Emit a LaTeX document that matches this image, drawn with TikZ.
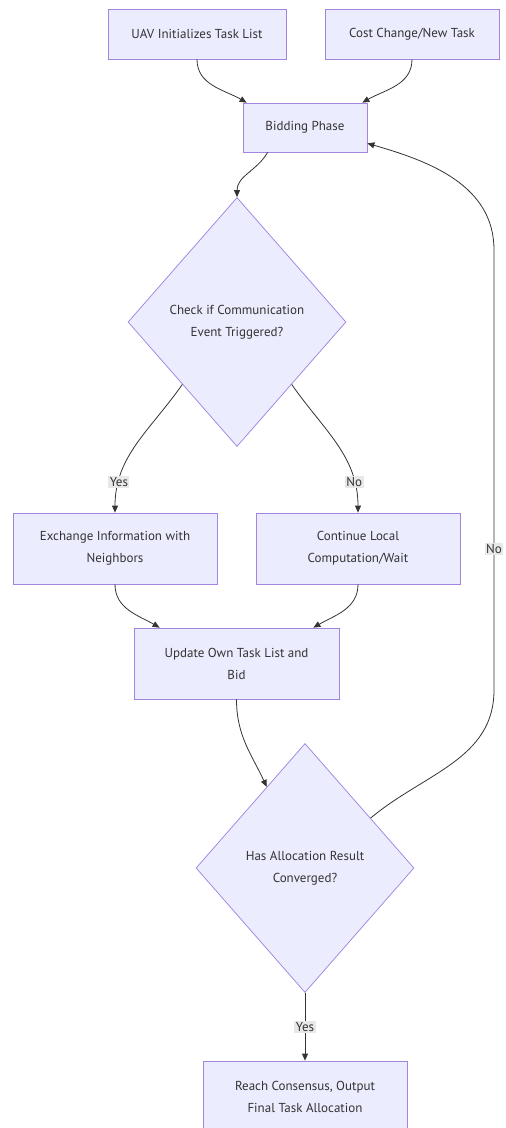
\documentclass[tikz,border=0pt]{standalone}
\usepackage{fontspec}
\setmainfont{PT Sans}
\usepackage{tikz}
\usetikzlibrary{arrows.meta, positioning, calc, shapes.geometric}
\definecolor{boxfill}{HTML}{ECECFF}
\definecolor{boxline}{HTML}{9370DB}
\definecolor{flowline}{HTML}{333333}
\definecolor{labelfill}{HTML}{E8E8E8}

\begin{document}
\begin{tikzpicture}[
    x=1pt, y=1pt,
    procbox/.style={draw=boxline!85, fill=boxfill, line width=0.75pt, align=center, text=flowline, font=\fontsize{13}{22}\selectfont, inner sep=0pt},
    decision/.style={diamond, draw=boxline!85, fill=boxfill, line width=0.75pt, align=center, text=flowline, font=\fontsize{13}{22}\selectfont, inner sep=0pt, minimum width=218pt, minimum height=249pt},
    flow/.style={->, draw=flowline, line width=0.8pt},
    edgelabel/.style={fill=labelfill, text=flowline, inner sep=1.5pt, font=\fontsize{13}{15}\selectfont},
    >={Triangle[length=7pt, width=6pt]}
]
  \useasboundingbox (0,0) rectangle (506,-1128);

  \node[procbox, minimum width=178pt, minimum height=50pt] (init) at (197,-34) {UAV Initializes Task List};
  \node[procbox, minimum width=174pt, minimum height=50pt] (change) at (412,-34) {Cost Change/New Task};
  \node[procbox, minimum width=124pt, minimum height=49pt] (bid) at (305,-127.5) {Bidding Phase};

  \node[decision] (comm) at (237,-322) {Check if Communication\\Event Triggered?};

  \node[procbox, minimum width=204pt, minimum height=71pt] (exch) at (115,-548.5) {Exchange Information with\\Neighbors};
  \node[procbox, minimum width=204pt, minimum height=71pt] (wait) at (358,-548.5) {Continue Local\\Computation/Wait};
  \node[procbox, minimum width=205pt, minimum height=71pt] (update) at (236.5,-663.5) {Update Own Task List and\\Bid};

  \node[decision] (conv) at (305,-868) {Has Allocation Result\\Converged?};

  \node[procbox, minimum width=204pt, minimum height=71pt] (final) at (305,-1096.5) {Reach Consensus, Output\\Final Task Allocation};

  % loop back to bidding
  \coordinate (loopLow) at (494,-690);
  \coordinate (loopHigh) at (494,-250);

  \draw[flow] (init.south) to[out=-90, in=150] ($(bid.north west)+(4,0)$);
  \draw[flow] (change.south) to[out=-90, in=30] ($(bid.north east)+(-5,0)$);
  \draw[flow] ($(bid.south west)+(25,0)$) to[out=-120, in=90] (comm.north);

  \draw[flow] (comm.south west) to[out=-125, in=90] node[edgelabel, pos=0.8] {Yes} (exch.north);
  \draw[flow] (comm.south east) to[out=-55, in=90] node[edgelabel, pos=0.8] {No} (wait.north);

  \draw[flow] (exch.south) to[out=-90, in=150] ($(update.north west)+(26,0)$);
  \draw[flow] (wait.south) to[out=-90, in=30] ($(update.north east)+(-26,0)$);
  \draw[flow] (update.south) to[out=-90, in=115] ($(conv.north)!0.35!(conv.west)$);

  \draw[flow] ($(conv.north)!0.6!(conv.east)$) to[out=40, in=-90] (loopLow) -- node[edgelabel, pos=0.32] {No} (loopHigh) to[out=90, in=-16] ($(bid.south east)+(0,9)$);
  \draw[flow] (conv.south) -- node[edgelabel] {Yes} (final.north);
\end{tikzpicture}
\end{document}
